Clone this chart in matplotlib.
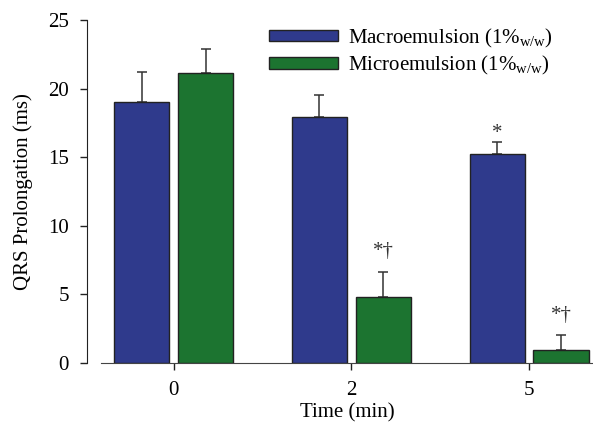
import matplotlib
matplotlib.use("Agg")
import matplotlib.pyplot as plt
import numpy as np
from matplotlib.patches import Patch

plt.rcParams['font.family'] = ['Liberation Serif', 'DejaVu Serif']
plt.rcParams['mathtext.fontset'] = 'custom'
plt.rcParams['mathtext.rm'] = 'Liberation Serif'
plt.rcParams['mathtext.it'] = 'Liberation Serif'

time_labels = ['0', '2', '5']
macro_mean = [19.0, 17.9, 15.2]
macro_err = [2.2, 1.6, 0.9]
micro_mean = [21.15, 4.8, 0.97]
micro_err = [1.75, 1.85, 1.07]
macro_marks = ['', '', '*']
micro_marks = ['', '*\u2020', '*\u2020']

blue = '#2f3a8c'
green = '#1c7430'
edge = '#222222'
fs = 15

fig = plt.figure(figsize=(5.93, 4.24), dpi=100)
ax = fig.add_axes([101/593, 61/424, 492/593, 343/424])

x = np.arange(len(time_labels))
w = 0.31
off = 0.18
ax.bar(x - off, macro_mean, w, color=blue, edgecolor=edge, linewidth=1.0, zorder=2)
ax.bar(x + off, micro_mean, w, color=green, edgecolor=edge, linewidth=1.0, zorder=2)
ax.errorbar(x - off, macro_mean, yerr=[np.zeros(3), macro_err], fmt='none',
            ecolor='#333333', elinewidth=1.1, capsize=3.5, capthick=1.1, zorder=1)
ax.errorbar(x + off, micro_mean, yerr=[np.zeros(3), micro_err], fmt='none',
            ecolor='#333333', elinewidth=1.1, capsize=3.5, capthick=1.1, zorder=1)

for xi, m, e, s in zip(x - off, macro_mean, macro_err, macro_marks):
    if s:
        ax.text(xi, m + e - 0.1, s, ha='center', va='bottom', fontsize=fs, color='#333333')
for xi, m, e, s in zip(x + off, micro_mean, micro_err, micro_marks):
    if s:
        ax.text(xi, m + e + 0.75, s, ha='center', va='bottom', fontsize=fs, color='#333333')

ax.set_xlim(-0.41, 2.36)
ax.set_ylim(0, 25)
ax.set_xticks(x)
ax.set_xticklabels(time_labels)
ax.set_yticks([0, 5, 10, 15, 20, 25])
ax.tick_params(axis='both', labelsize=fs, direction='out', length=5, width=1, color='#222222')
ax.tick_params(axis='x', pad=8)
ax.tick_params(axis='y', pad=8)
ax.spines['top'].set_visible(False)
ax.spines['right'].set_visible(False)
ax.spines['left'].set_position(('outward', 10))
ax.spines['left'].set_color('#222222')
ax.spines['bottom'].set_color('#444444')

ax.set_ylabel('QRS Prolongation (ms)', fontsize=fs, labelpad=11)
ax.set_xlabel('Time (min)', fontsize=fs, labelpad=2)

handles = [Patch(facecolor=blue, edgecolor=edge, linewidth=1.0),
           Patch(facecolor=green, edgecolor=edge, linewidth=1.0)]
labels = [r'Macroemulsion (1%$_{\mathrm{w/w}}$)', r'Microemulsion (1%$_{\mathrm{w/w}}$)']
ax.legend(handles, labels, loc='upper left', bbox_to_anchor=(0.325, 1.005), frameon=False,
          fontsize=fs, handlelength=3.3, handleheight=0.45, handletextpad=0.5,
          labelspacing=0.2, borderaxespad=0.0)

fig.savefig('out.png', dpi=100)
